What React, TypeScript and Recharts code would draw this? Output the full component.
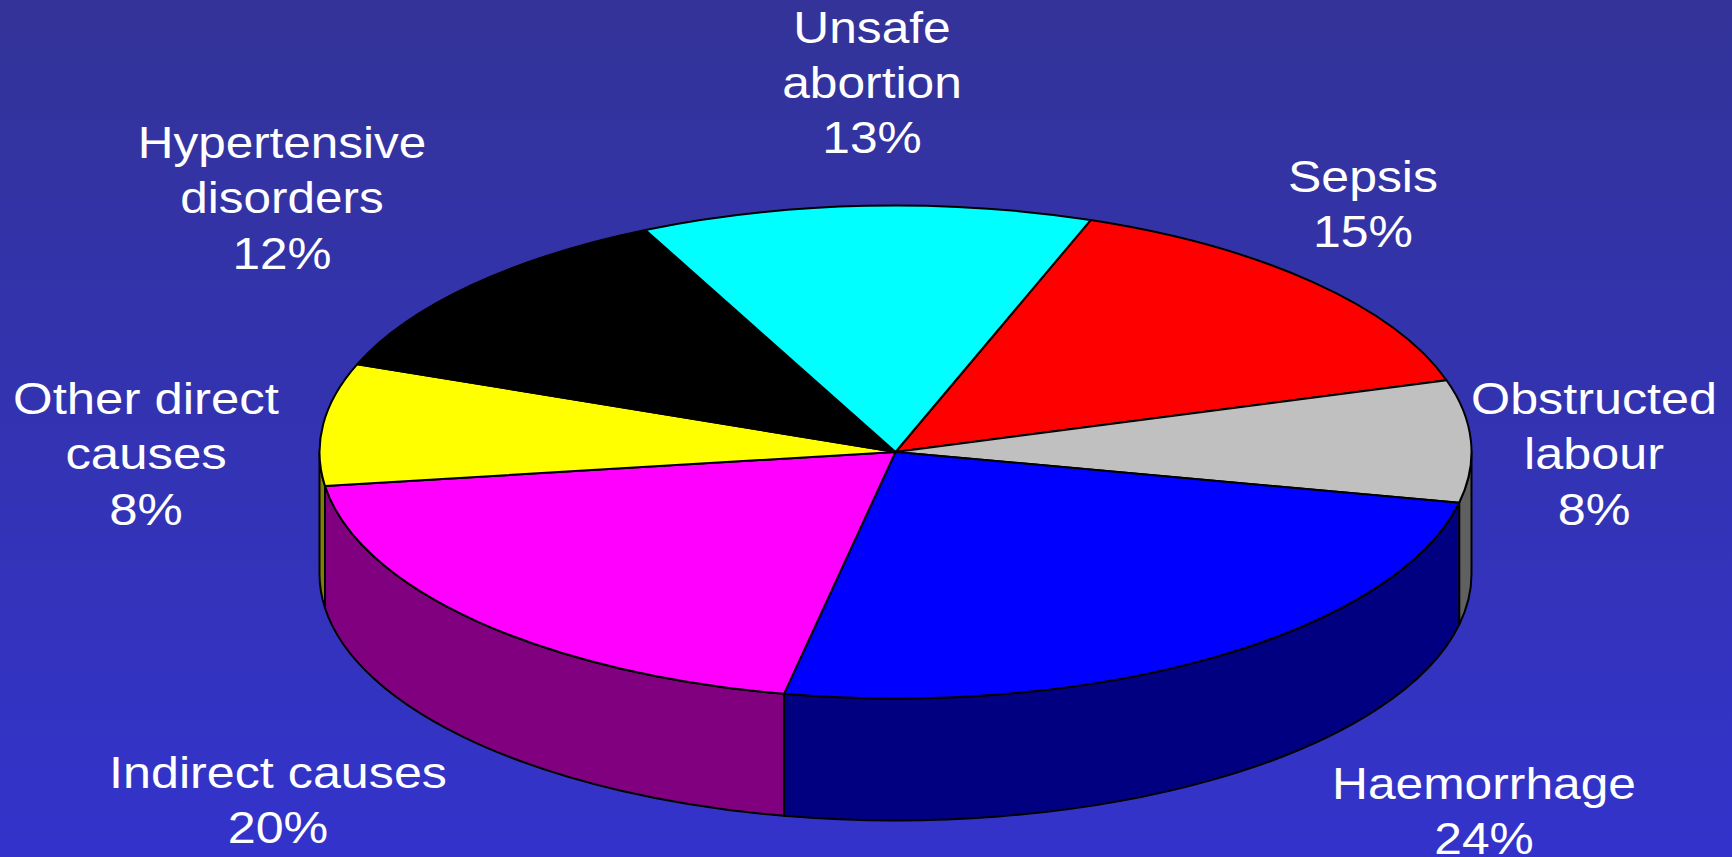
import { PieChart, Pie } from 'recharts';

const causes = ['Sepsis', 'Obstructed labour', 'Haemorrhage', 'Indirect causes', 'Other direct causes', 'Hypertensive disorders', 'Unsafe abortion'];
// parts (les tranches ne suivent pas tout a fait les % imprimes)
const sliceShares = [14.8, 8, 24.8, 19.7, 8, 12.05, 12.65];
const printedShares = [15, 8, 24, 20, 8, 12, 13];
const topColors = ['#ff0000', '#c0c0c0', '#0000ff', '#ff00ff', '#ffff00', '#000000', '#00ffff'];
const wallColors = ['#800000', '#606060', '#000080', '#800080', '#808000', '#000000', '#008080'];

// lignes de texte de chaque etiquette
const labelLines = [
  ['Sepsis'],
  ['Obstructed', 'labour'],
  ['Haemorrhage'],
  ['Indirect causes'],
  ['Other direct', 'causes'],
  ['Hypertensive', 'disorders'],
  ['Unsafe', 'abortion'],
];
const labelX = [1363, 1594, 1484, 278, 146, 282, 872];
const labelY = [191.5, 414, 798.5, 787.5, 414, 158, 42.5];
const labelStretch = [1.135, 1.143, 1.13, 1.142, 1.157, 1.124, 1.13];

const chartData = causes.map((name, i) => ({
  name,
  value: sliceShares[i],
  fill: topColors[i],
  wall: wallColors[i],
}));

const TILT = 246.5 / 576;
const DEPTH = 122;
const RAD = Math.PI / 180;

const EllipseSlice = (props: any) => {
  const { cx, cy, outerRadius, startAngle, endAngle, fill } = props;
  const wall = props.wall ?? props.payload?.wall;
  const a = outerRadius;
  const b = outerRadius * TILT;
  const pt = (deg: number, dy = 0) =>
    `${cx + a * Math.cos(deg * RAD)} ${cy - b * Math.sin(deg * RAD) + dy}`;

  // la paroi n'est visible que sur la moitie basse de l'ellipse
  const wallStart = Math.min(startAngle, 0);
  const wallEnd = Math.max(endAngle, -180);
  const hasWall = wallStart > wallEnd;
  const large = startAngle - endAngle > 180 ? 1 : 0;

  return (
    <g>
      {hasWall && (
        <path
          d={`M ${pt(wallStart)} A ${a} ${b} 0 0 1 ${pt(wallEnd)} L ${pt(wallEnd, DEPTH)} A ${a} ${b} 0 0 0 ${pt(wallStart, DEPTH)} Z`}
          fill={wall}
          stroke="#000"
          strokeWidth={2}
          strokeLinejoin="round"
        />
      )}
      <path
        d={`M ${cx} ${cy} L ${pt(startAngle)} A ${a} ${b} 0 ${large} 1 ${pt(endAngle)} Z`}
        fill={fill}
        stroke="#000"
        strokeWidth={2}
        strokeLinejoin="round"
      />
    </g>
  );
};

const SliceLabel = ({ index }: any) => {
  const lines = [...labelLines[index], `${printedShares[index]}%`];
  return (
    <text
      transform={`translate(${labelX[index]} ${labelY[index]}) scale(${labelStretch[index]} 1)`}
      textAnchor="middle"
      fill="#ffffff"
      fontFamily="'Liberation Sans', Arial, sans-serif"
      fontSize={44}
    >
      {lines.map((line, i) => (
        <tspan key={line} x={0} y={i * 55.4}>{line}</tspan>
      ))}
    </text>
  );
};

export default function App() {
  return (
    <div
      style={{
        position: 'absolute',
        left: 0,
        top: 0,
        width: 1732,
        height: 857,
        overflow: 'hidden',
        background: 'linear-gradient(to bottom, #333399, #3333cc)',
      }}
    >
      <PieChart width={1732} height={857} margin={{ top: 0, right: 0, bottom: 0, left: 0 }}>
        <Pie
          data={chartData}
          dataKey="value"
          nameKey="name"
          cx={895.5}
          cy={452}
          innerRadius={0}
          outerRadius={576}
          startAngle={70.2}
          endAngle={-289.8}
          paddingAngle={0}
          shape={EllipseSlice}
          label={SliceLabel}
          labelLine={false}
          isAnimationActive={false}
        />
      </PieChart>
    </div>
  );
}
